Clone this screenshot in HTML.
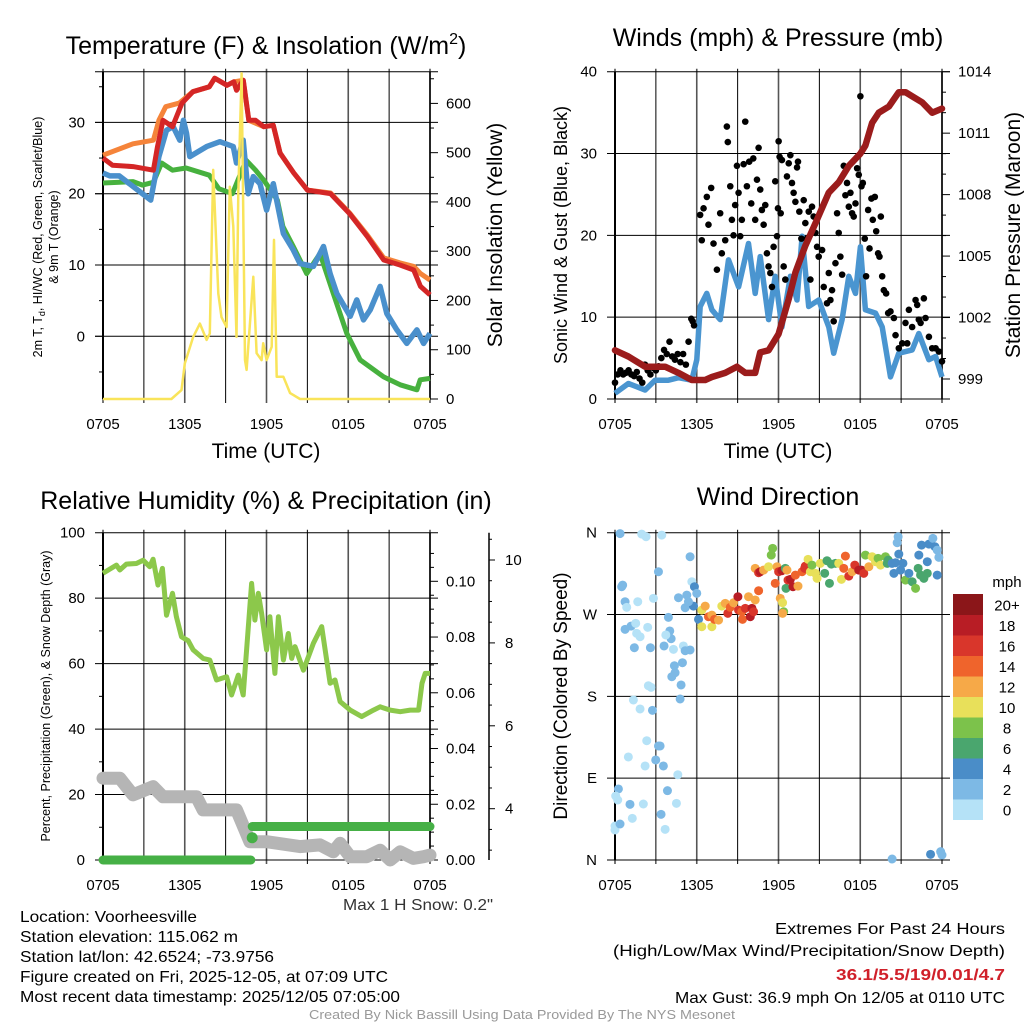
<!DOCTYPE html>
<html><head><meta charset="utf-8"><style>
html,body{margin:0;padding:0;background:#fff;}
svg{display:block;font-family:"Liberation Sans",Arial,sans-serif;}
</style></head><body>
<svg id="chart" width="1024" height="1024" viewBox="0 0 1024 1024" xmlns="http://www.w3.org/2000/svg">
<rect width="1024" height="1024" fill="#fff"/>
<g id="p1"></g>
<g id="p2"></g>
<g id="p3"></g>
<g id="p4"></g>
<g id="txt" font-size="16" fill="#000">
<text x="20" y="922" textLength="177" lengthAdjust="spacingAndGlyphs">Location: Voorheesville</text>
<text x="20" y="942" textLength="218" lengthAdjust="spacingAndGlyphs">Station elevation: 115.062 m</text>
<text x="20" y="962" textLength="254" lengthAdjust="spacingAndGlyphs">Station lat/lon: 42.6524; -73.9756</text>
<text x="20" y="982" textLength="368" lengthAdjust="spacingAndGlyphs">Figure created on Fri, 2025-12-05, at 07:09 UTC</text>
<text x="20" y="1002" textLength="380" lengthAdjust="spacingAndGlyphs">Most recent data timestamp: 2025/12/05 07:05:00</text>
<text x="493" y="910" text-anchor="end" fill="#333" textLength="150" lengthAdjust="spacingAndGlyphs">Max 1 H Snow: 0.2"</text>
<text x="1005" y="934" text-anchor="end" textLength="230" lengthAdjust="spacingAndGlyphs">Extremes For Past 24 Hours</text>
<text x="1005" y="956" text-anchor="end" textLength="392" lengthAdjust="spacingAndGlyphs">(High/Low/Max Wind/Precipitation/Snow Depth)</text>
<text x="1005" y="980" text-anchor="end" fill="#d0202a" font-weight="bold" textLength="169" lengthAdjust="spacingAndGlyphs">36.1/5.5/19/0.01/4.7</text>
<text x="1005" y="1003" text-anchor="end" textLength="330" lengthAdjust="spacingAndGlyphs">Max Gust: 36.9 mph On 12/05 at 0110 UTC</text>
<text x="522" y="1019" text-anchor="middle" font-size="13" fill="#999" textLength="426" lengthAdjust="spacingAndGlyphs">Created By Nick Bassill Using Data Provided By The NYS Mesonet</text>
</g>
</svg>
<script>
// ---- data (hours since 0705 UTC) ----
const timeLabels=["0705","1305","1905","0105","0705"];
const tempTicks=[0,10,20,30];
const solarTicks=[0,100,200,300,400,500,600];
const windTicks=[0,10,20,30,40];
const presTicks=[999,1002,1005,1008,1011,1014];
const rhTicks=[0,20,40,60,80,100];
const precipTicks=[0,0.02,0.04,0.06,0.08,0.10];
const snowTicks=[4,6,8,10];
const dirTicks=["N","E","S","W","N"];
const dirTickVals=[0,90,180,270,360];

const redT=[0,0.7,2.2,3.7,4,4.4,5.1,5.8,6.6,7.8,8.2,9.1,9.6,9.8,10.3,10.7,11.2,11.8,12.5,13,14,15,16.7,18.1,19.4,20.6,21.8,22.8,23.3,24];
const redV=[25,24,23.8,23.3,26.6,30.3,29.4,32.7,34.3,35,36.2,35.2,35.7,34.5,35.9,30.3,30.3,29.4,29.6,25.7,22.9,20.5,20,17.2,14,10.7,10,9.3,7,5.8];
const orT=[0,2.2,3.7,4.1,4.6,5.6,6.6,7.8,8.2,9.1,9.6,10.3,10.7,11.8,12.5,13,14,15,16.7,18.1,19.4,20.6,21.8,22.8,23.3,24];
const orV=[25.4,27,27.5,30.3,32.2,32.7,34.3,35,36.2,35.2,35.7,35.9,30.3,29.4,29.6,25.7,22.9,20.5,20.1,17.3,14.2,11,10.3,9.8,8.8,7.9];
const grT=[0,2.2,2.9,3.7,4.3,5.1,6.1,7.8,8.5,9.5,10.5,11.2,11.8,12.8,13.2,13.97,14.95,15.93,16.9,17.89,18.87,20.6,21.81,23.04,23.28,24];
const grV=[21.5,21.7,21.2,21.6,24.3,23.3,23.6,22.6,20.7,20,24.7,23.3,21.9,19.1,15.4,12.6,8.8,11.6,6,0.4,-3.3,-5.7,-6.8,-7.5,-6.1,-5.9];
const blT=[0,0.5,1.2,3.5,4.1,4.66,5.15,5.64,5.9,6.13,6.37,7.6,8.58,9.56,9.8,10.29,10.66,11.03,11.52,12.01,12.5,13.24,13.97,14.46,15.44,16.18,16.67,17.16,18.14,18.63,19.12,19.61,20.34,20.83,21.57,22.3,23.04,23.53,24];
const blV=[22.9,22.5,22.5,19.1,25.2,28.9,29.4,27.5,30.3,28.5,25.2,26.6,27.3,26.6,24.3,27.5,20,22.4,21.4,17.7,21.4,14.4,12.1,10.2,9.8,12.6,8.8,6,2.8,5.1,2.3,3.7,7,3.2,0.9,-1,0.9,-1,0.4];
const solT=[0,5.02,5.76,6,6.62,7.11,7.6,7.84,8.09,8.46,8.7,9.07,9.31,9.56,9.8,9.93,10.17,10.42,10.54,11.03,11.27,11.64,11.76,12.01,12.38,12.55,12.75,13.24,13.73,14.46,24];
const solV=[0,0,18,72,126,153,120,133,465,214,166,146,431,350,126,418,661,79,59,248,93,79,113,79,106,323,45,45,12,0,0];

const presT=[0,0.98,2.21,3.68,4.66,5.64,6.62,7.11,8.09,8.95,9.56,10.29,10.66,11.27,12.01,12.75,13.24,13.97,14.71,15.69,16.42,17.16,18.01,18.38,18.87,19.36,20.1,20.83,21.32,21.81,22.55,23.28,24];
const presV=[1000.4,1000.1,999.6,999.6,999.3,998.95,998.95,999.1,999.3,999.6,999.3,999.3,1000.3,1000.4,1001.2,1002.9,1004.2,1005.5,1006.6,1008.1,1008.6,1009.4,1010,1010.4,1011.5,1012,1012.3,1013,1013,1012.8,1012.5,1012,1012.2];
const windT=[0,0.98,2.21,2.94,3.92,4.66,5.64,6,6.25,6.74,7.11,7.72,8.33,9.07,9.8,10.29,10.66,11.27,11.76,12.25,12.87,13.36,13.73,14.22,14.95,15.69,16.05,16.67,17.16,17.65,18.01,18.38,19.12,19.61,20.22,20.83,21.81,22.3,23.04,23.53,24];
const windV=[0.7,1.9,1.1,2.3,2.3,2.6,2.3,4.8,11.3,12.9,10.9,9.7,17,13.7,19,12.9,17.4,9.7,15,8.8,15,12.1,19.9,11.3,12.1,8.8,5.6,9.7,15,12.9,18.6,10.9,10.5,8.8,2.7,5.6,6,8,4.8,5.2,2.7];
const gustT=[0,0.2,0.4,0.6,0.8,1,1.2,1.4,1.6,1.8,2,2.2,2.4,2.6,2.8,3,3.2,3.4,3.6,3.8,4,4.2,4.4,4.6,4.8,5,5.2,5.4,5.6,5.7,5.8,6.25,6.37,6.5,6.74,6.86,7.06,7.23,7.48,7.72,7.84,8.09,8.21,8.28,8.46,8.58,8.7,8.82,8.95,9.07,9.19,9.31,9.44,9.56,9.68,9.85,10,10.15,10.29,10.42,10.54,10.66,10.78,10.91,11.03,11.15,11.27,11.4,11.52,11.64,11.76,11.89,11.96,12.01,12.08,12.16,12.25,12.38,12.5,12.62,12.75,12.87,12.99,13.11,13.24,13.36,13.43,13.53,13.68,13.85,13.97,14.09,14.22,14.34,14.46,14.58,14.71,14.83,14.95,15.2,15.32,15.56,15.69,15.81,15.93,16.05,16.18,16.3,16.42,16.54,16.67,16.79,16.91,17.03,17.16,17.28,17.4,17.52,17.65,17.77,17.89,18.01,18.09,18.19,18.33,18.43,18.58,18.68,18.82,18.92,19.07,19.17,19.31,19.41,19.51,19.61,19.73,19.9,20.05,20.22,20.47,20.59,20.83,21.08,21.32,21.45,21.57,21.81,22.06,22.18,22.3,22.43,22.67,22.79,23.04,23.28,23.53,23.77,24];
const gustV=[2,3,3.5,3,3.2,3.5,3,2.8,3.3,2.5,2,4.2,3.5,3,3.8,3.5,4,5,6,5.5,7,5.2,4.8,5.5,4.5,5.5,4.2,7,9.8,9.5,9,22.5,19.4,23.3,24.7,21.3,25.8,19,15.8,22.7,17.8,19.4,33.3,31.4,26,21.9,20,23.7,28.5,25.2,19.9,21.9,28.7,33.9,26,29,23.9,29.4,21.9,26.8,30.7,25.6,23.1,21.3,23.7,17.8,16.2,15.4,13.7,18.6,26.6,19.9,23.3,31.5,29.6,22.7,29.2,16.2,14.6,27.2,28.8,29.8,26.4,25.2,24.1,28.3,29,22.9,19.6,24.3,21.5,19.6,22.9,14.6,23.5,22.3,20.3,18.6,17.4,18.2,13.7,11.7,15.4,12.1,13.3,9.5,16.6,22.7,20.3,17.4,15.2,28.5,24.9,26.4,23.5,25.2,22.7,22.3,23.9,28.2,27.4,37,26,26.4,19.6,15,23.1,18.4,24.5,21.9,24.7,20.5,17.8,17.4,22.3,15,13.3,12.9,10.5,10.7,9.9,7.8,6.2,6.8,9.3,6.8,10.9,8.8,12.1,11.5,9.7,9.3,12.3,9.9,7.6,6.2,6.2,5.8,4.6];

const rhT=[0,0.98,1.23,1.72,2.45,2.94,3.43,3.68,4.04,4.36,4.66,5.1,5.39,5.76,6.25,6.62,7.35,7.84,8.33,9.07,9.44,9.93,10.29,10.91,11.15,11.4,11.64,12.01,12.25,12.62,12.87,13.24,13.6,13.85,14.09,14.71,15.44,16.05,16.67,17.03,17.4,18.14,18.99,19.85,20.34,21.08,21.81,22.55,23.16,23.41,23.65,24];
const rhV=[87.6,90.1,88.6,90.4,90.6,91.6,89.6,91.9,84,89.1,74.8,81.5,74.3,68.2,67,64.2,61.6,61.1,55,56,50.4,56.5,50.4,84.5,73.3,81.5,75.4,64.2,74.3,57,74.3,61.1,69.2,61.6,65.2,58,66.2,71.3,54,55,48.4,45.8,43.8,45.8,46.8,45.8,45.3,45.8,45.8,54,57,57];
const snowT=[0,1.23,2.2,3.68,4.4,6.13,6.86,7.35,8.09,9.8,10.78,12.01,14.46,15.93,16.9,17.4,18.14,19.36,20.34,21.08,21.81,22.79,23.53,24];
const snowV=[25,25,19.9,22.4,19.3,19.3,19.3,15.3,15.3,15.3,5.6,5.6,4.1,4.6,2.5,5.1,1,1,3,0,2.5,0.5,1,1.5];
const precipT=[0,10.85,10.95,24];
const precipV=[0,0,0.012,0.012];

const wdT=[0.37,1.96,2.28,3.43,5.51,3.19,0.49,0.56,0.74,0.86,1.67,2.82,5.64,5.83,6.0,4.66,5.27,5.15,5.76,5.39,3.92,0.74,1.18,1.52,1.59,1.84,2.4,4.02,4.12,3.73,1.42,2.6,3.6,4.29,5.02,5.15,5.51,4.36,4.41,4.17,4.95,4.85,2.45,2.65,4.78,1.35,1.84,2.75,2.33,3.19,3.31,2.99,3.55,2.21,0.98,4.61,0.25,0.05,0.2,1.1,2.08,3.85,4.51,3.38,1.27,0,0,0.37,3.68,20.34,23.16,23.9,24,
6.13,6.37,6.37,6.62,6.86,7.11,7.11,7.3,7.6,7.84,8.09,8.28,8.46,8.7,9.02,9.07,9.31,9.36,9.56,9.8,9.93,10.05,10.17,10.29,10.54,10.29,10.54,10.66,10.91,11.27,11.47,11.57,11.76,11.89,12.01,12.25,12.13,12.3,12.38,12.3,12.5,12.62,12.55,12.7,12.87,13.06,13.24,13.43,13.73,13.97,13.92,14.17,14.34,14.46,14.71,14.83,15.07,15.39,15.56,15.74,15.88,16.18,16.42,16.62,16.79,16.91,17.16,17.4,17.6,17.89,18.09,18.26,18.38,18.63,18.87,19.12,19.31,19.49,19.85,19.98,20.05,20.34,20.47,20.59,20.71,20.78,20.83,20.96,21.13,21.32,21.57,21.81,22.06,22.25,22.43,22.67,22.92,22.3,22.5,22.92,23.04,23.33,23.48,23.65,23.77,23.65];
const wdDir=[359,358.5,355.6,357.4,333.6,317.1,300.6,302.4,284.1,277.9,284.1,287.8,306.1,300.6,293.3,288.5,291.4,277.5,279.3,284.1,266.9,253.7,257.3,260.3,249.3,245.6,255.9,251.9,243.4,247.5,233.5,233.5,235.4,231.7,235.4,230.2,231,213.7,206,201.6,217,192.5,191.7,189.9,177.1,176,166.1,164.6,131.2,125.4,125.4,110,103.4,103.4,113.3,93.8,78.1,70.4,66,61.2,61.6,76.3,62.3,50.2,45.8,37.4,33,39.6,33.7,1.1,6.2,9.2,5.5,
264.7,274.9,256.6,279.3,267.6,269.4,256.6,264.7,263.9,279.3,282.3,271.3,277.9,283,289.6,274.9,273.1,264.7,276.8,289.6,267.6,276.8,273.1,286,296.2,320.8,316,317.1,318.9,322.6,335.4,342.8,304.3,322.6,317.1,318.2,287.8,283,273.1,271.3,320.8,318.9,298.8,307.9,308.7,300.6,313.4,301.3,317.1,323.3,320.8,330.7,317.1,324.4,315.3,309.8,326.3,315.3,329.2,304.3,325.5,326.3,326.3,308.7,320.8,334.3,312.3,317.1,324.4,318.9,318.9,315.3,335.4,322.6,333.6,328.1,331.8,324.4,333.6,326.3,329.9,326.3,315.3,327,349,355.6,336.5,318.9,326.3,307.9,315.3,306.1,298.8,320.8,313.4,309.8,315.3,335.4,346.4,328.1,347.5,353.8,344.6,340.9,332.9,313.4];
const wdSpd=[2.5,1,1,1,3,3,2.5,2.5,2.5,1,1,1,1,4.5,3.5,3,3,3,4.5,2,3,3,3,1,1,1,1,3,3,1,3,3,3,1,1,3,3,3,3,3,3,3,1,1,3,1,1,3,1,3,3,3,3,1,1,1,3,1,1,3,1,3,1,3,1,1,1,3,1,3,4.5,2.5,3,
4,10,10,12.5,14,12,10,14,12,10,12,16,14,12,18.5,16,14,15,17,12,18.5,18,17.5,12,14,12,16,18,13,10,8,8,14,12,17,18,12,10,8,12,6,12,7,16,18,19,14,12,14,16,17,10,10,8,10,10,10,7,7,6,6,6,10,10,14,15,16,12,17,18,19,16,8,12,10,10,8,10,8,6,6,4.5,4.5,4.5,3,3,4.5,4.5,4.5,8,4.5,6,8,6,7,7,7,4.5,4.5,4.5,4.5,3,4.5,3,3,4.5];
const spdLabels=["0","2","4","6","8","10","12","14","16","18","20+"];
const spdColors=["#b5e2f7","#7db9e5","#4a8dc8","#4aa66e","#7cc24b","#e8e05a","#f6a948","#ef642c","#d9362b","#b81d25","#8b1619"];

// ---- helpers ----
const NS="http://www.w3.org/2000/svg";
function mk(parent,tag,attrs,text){const e=document.createElementNS(NS,tag);for(const k in attrs)e.setAttribute(k,attrs[k]);if(text!==undefined)e.textContent=text;parent.appendChild(e);return e;}
function lin(d0,d1,r0,r1){return v=>r0+(v-d0)*(r1-r0)/(d1-d0);}
function pathOf(ts,vs,sx,sy){return ts.map((t,i)=>(i?"L":"M")+sx(t).toFixed(1)+","+sy(vs[i]).toFixed(1)).join("");}

function frame(g,x0,x1,y0,y1,hy){
  const sx=lin(0,24,x0,x1);
  for(let h=0;h<=24;h+=3){
    const l=mk(g,"line",{x1:sx(h),x2:sx(h),y1:y0-3,y2:y1+4,stroke:h%6===0?"#555":"#000","stroke-width":h%6===0?1.6:1});
    
    
  }
  timeLabels.forEach((lab,i)=>{
    const t=mk(g,"text",{x:sx(i*6),y:y1+30,"text-anchor":"middle","font-size":15},lab);
    
    
  });
  return sx;
}
function hgrid(g,x0,x1,ys){ys.forEach(y=>{const l=mk(g,"line",{x1:x0-8,x2:x1+8,y1:y,y2:y,stroke:"#000","stroke-width":1});
  
  });}
function title(g,x,y,txt,size){const t=mk(g,"text",{x:x,y:y,"text-anchor":"middle","font-size":size||22});t.innerHTML=txt;return t;}
function vtitle(g,x,y,txt,size){const t=mk(g,"text",{x:x,y:y,"text-anchor":"middle","font-size":size,transform:`rotate(-90 ${x} ${y})`});t.innerHTML=txt;return t;}

// ---- Panel 1 ----
(function(){
  const g=document.getElementById("p1");
  const x0=103,x1=430,y0=71.7,y1=399;
  const sx=frame(g,x0,x1,y0,y1);
  const sy=lin(0,30,336.3,122.4);
  const ss=lin(0,600,399,103.4);
  hgrid(g,x0,x1,tempTicks.map(sy).concat([y0]));
  mk(g,"line",{x1:x0,x2:x0,y1:y0,y2:y1,stroke:"#000","stroke-width":2});
  mk(g,"line",{x1:x1,x2:x1,y1:y0,y2:y1,stroke:"#000","stroke-width":1.5});
  for(let v=-5;v<=35;v+=5){mk(g,"line",{x1:x0-(v%10===0?8:4),x2:x0,y1:sy(v),y2:sy(v),stroke:"#000"});}
  for(let v=0;v<=650;v+=50){mk(g,"line",{x1:x1,x2:x1+(v%100===0?8:4),y1:ss(v),y2:ss(v),stroke:"#000"});}
  tempTicks.forEach(v=>{const t=mk(g,"text",{x:85,y:sy(v)+5,"text-anchor":"end","font-size":15},v);
    
    });
  solarTicks.forEach(v=>{const t=mk(g,"text",{x:446,y:ss(v)+5,"font-size":15},v);
    
    });
  const o=mk(g,"path",{d:pathOf(orT,orV,sx,sy),fill:"none",stroke:"#f5843a","stroke-width":5,"stroke-linejoin":"round"});
  
  
  const gr=mk(g,"path",{d:pathOf(grT,grV,sx,sy),fill:"none",stroke:"#47b13e","stroke-width":5,"stroke-linejoin":"round"});
  
  
  const b=mk(g,"path",{d:pathOf(blT,blV,sx,sy),fill:"none",stroke:"#4a90cc","stroke-width":5.5,"stroke-linejoin":"round"});
  
  
  const r=mk(g,"path",{d:pathOf(redT,redV,sx,sy),fill:"none",stroke:"#d42626","stroke-width":5,"stroke-linejoin":"round"});
  
  
  const s2=mk(g,"path",{d:pathOf(solT,solV,sx,ss),fill:"none",stroke:"#f9e45a","stroke-width":2.5,"stroke-linejoin":"round"});
  
  
  const t1=title(g,266,54,'Temperature (F) &amp; Insolation (W/m<tspan font-size="16" dy="-10">2</tspan><tspan dy="10">)</tspan>',25);
  
  
  const xt=title(g,266,458,"Time (UTC)",21);
  
  
  const y1t=vtitle(g,42,237,'2m T, T<tspan font-size="9" dy="3">d</tspan><tspan dy="-3">, HI/WC (Red, Green, Scarlet/Blue)</tspan>',12.5);
  
  
  const y2t=vtitle(g,58,237,'&amp; 9m T (Orange)',12.5);
  
  
  const yr=vtitle(g,502,235,'Solar Insolation (Yellow)',21);
  
  
})();

// ---- Panel 2 ----
(function(){
  const g=document.getElementById("p2");
  const x0=615,x1=942,y0=71.7,y1=399;
  const sx=frame(g,x0,x1,y0,y1);
  const sy=lin(0,40,399,71.7);
  const sp=lin(999,1014,379,71.7);
  hgrid(g,x0,x1,windTicks.map(sy));
  mk(g,"line",{x1:x0,x2:x0,y1:y0,y2:y1,stroke:"#000","stroke-width":2});
  mk(g,"line",{x1:x1,x2:x1,y1:y0,y2:y1,stroke:"#000","stroke-width":1.5});
  for(let v=998;v<=1014;v+=1){if(sp(v)<=y1)mk(g,"line",{x1:x1,x2:x1+((v-999)%3===0?8:4),y1:sp(v),y2:sp(v),stroke:"#000"});}
  windTicks.forEach(v=>{const t=mk(g,"text",{x:597,y:sy(v)+5,"text-anchor":"end","font-size":15},v);
    
    });
  presTicks.forEach(v=>{const t=mk(g,"text",{x:958,y:sp(v)+5,"font-size":15},v);
    
    });
  const w=mk(g,"path",{d:pathOf(windT,windV,sx,sy),fill:"none",stroke:"#4a95d0","stroke-width":5.5,"stroke-linejoin":"round"});
  
  
  gustT.forEach((t,i)=>{
    const c=mk(g,"circle",{cx:sx(t),cy:sy(gustV[i]),r:3.3,fill:"#000"});
    
    
  });
  const p=mk(g,"path",{d:pathOf(presT,presV,sx,sp),fill:"none",stroke:"#9b1c1c","stroke-width":6.5,"stroke-linejoin":"round","stroke-linecap":"round"});
  
  
  const t1=title(g,778,46,'Winds (mph) &amp; Pressure (mb)',25);
  
  
  const xt=title(g,778,458,"Time (UTC)",21);
  
  
  const yl=vtitle(g,567,235,'Sonic Wind &amp; Gust (Blue, Black)',18);
  
  
  const yr=vtitle(g,1020,235,'Station Pressure (Maroon)',21);
  
  
})();

// ---- Panel 3 ----
(function(){
  const g=document.getElementById("p3");
  const x0=103,x1=430,y0=532.7,y1=860;
  const sx=frame(g,x0,x1,y0,y1);
  const sy=lin(0,100,860,532.7);
  const sp=lin(0,0.1,860,581.3);
  const sn=lin(4,10,808.7,560);
  hgrid(g,x0,x1,rhTicks.map(sy));
  mk(g,"line",{x1:x0,x2:x0,y1:y0,y2:y1,stroke:"#000","stroke-width":2});
  mk(g,"line",{x1:x1,x2:x1,y1:y0,y2:y1,stroke:"#000","stroke-width":1.5});
  for(let v=10;v<100;v+=20){mk(g,"line",{x1:x0-4,x2:x0,y1:sy(v),y2:sy(v),stroke:"#000"});}
  for(let v=0;v<=0.115;v+=0.005){const y=sp(v);if(y>=y0)mk(g,"line",{x1:x1,x2:x1+(Math.round(v*1000)%20===0?8:4),y1:y,y2:y,stroke:"#000"});}
  mk(g,"line",{x1:489,x2:489,y1:y0,y2:y1,stroke:"#000","stroke-width":1.5});
  for(let v=3;v<=10.5;v+=0.5){const y=sn(v);if(y>=y0&&y<=y1)mk(g,"line",{x1:489,x2:489+(v%2===0?6:3),y1:y,y2:y,stroke:"#000"});}
  rhTicks.forEach(v=>{const t=mk(g,"text",{x:85,y:sy(v)+5,"text-anchor":"end","font-size":15},v);
    
    });
  precipTicks.forEach(v=>{const t=mk(g,"text",{x:446,y:sp(v)+5,"font-size":15},v.toFixed(2));
    
    });
  snowTicks.forEach(v=>{const t=mk(g,"text",{x:505,y:sn(v)+5,"font-size":15},v);
    
    });
  const sd=mk(g,"path",{d:pathOf(snowT,snowV,sx,sy),fill:"none",stroke:"#b5b5b5","stroke-width":13,"stroke-linejoin":"round","stroke-linecap":"round"});
  
  
  const pr=mk(g,"path",{d:"M"+sx(precipT[0])+","+sp(precipV[0])+"L"+sx(precipT[1])+","+sp(precipV[1])+"M"+sx(precipT[2])+","+sp(precipV[2])+"L"+sx(precipT[3])+","+sp(precipV[3]),fill:"none",stroke:"#46b046","stroke-width":9,"stroke-linecap":"round"});
  
  
  const dot=mk(g,"circle",{cx:sx(precipT[2]),cy:sp(0.008),r:5.5,fill:"#46b046"});
  
  
  const rh=mk(g,"path",{d:pathOf(rhT,rhV,sx,sy),fill:"none",stroke:"#8cc84b","stroke-width":5,"stroke-linejoin":"round"});
  
  
  const t1=title(g,266,509,'Relative Humidity (%) &amp; Precipitation (in)',25);
  
  
  const yl=vtitle(g,50,696,'Percent, Precipitation (Green), &amp; Snow Depth (Gray)',12.5);
  
  
})();

// ---- Panel 4 ----
(function(){
  const g=document.getElementById("p4");
  const x0=615,x1=942,y0=532.7,y1=860;
  const sx=frame(g,x0,x1,y0,y1);
  const sy=lin(0,360,860,532.7);
  hgrid(g,x0,x1,dirTickVals.map(sy));
  mk(g,"line",{x1:x0,x2:x0,y1:y0,y2:y1,stroke:"#000","stroke-width":2});
  dirTicks.forEach((lab,i)=>{const t=mk(g,"text",{x:597,y:sy(dirTickVals[i])+5,"text-anchor":"end","font-size":15},lab);
    
    });
  wdT.forEach((t,i)=>{
    const bin=Math.min(10,Math.floor(wdSpd[i]/2));
    const c=mk(g,"circle",{cx:sx(t),cy:sy(wdDir[i]),r:4.5,fill:spdColors[bin]});
    
    
  });
  const bh=20.5,by=594;
  spdColors.forEach((col,i)=>{
    const y=by+(10-i)*bh;
    const r=mk(g,"rect",{x:953,y:y,width:30,height:bh+0.5,fill:col});
    
    
    const t=mk(g,"text",{x:1007,y:y+bh/2+6,"text-anchor":"middle","font-size":15},spdLabels[i]);
    
    
  });
  const mph=mk(g,"text",{x:1007,y:587,"text-anchor":"middle","font-size":15},"mph");
  
  
  const t1=title(g,778,505,'Wind Direction',25);
  
  
  const yl=vtitle(g,567,696,'Direction (Colored By Speed)',19);
  
  
})();
</script>
</body></html>
